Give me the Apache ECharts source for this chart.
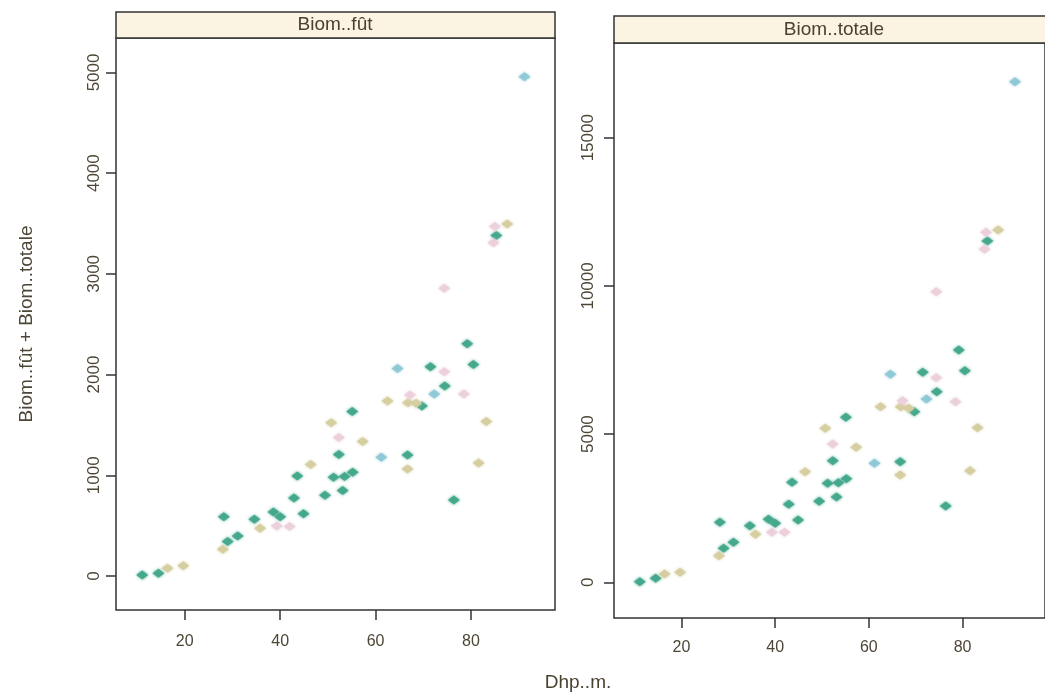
<!DOCTYPE html>
<html>
<head>
<meta charset="utf-8">
<style>html,body{margin:0;padding:0;background:#fff;}#c{width:1045px;height:696px;}</style>
<script src="https://cdn.jsdelivr.net/npm/echarts@6/dist/echarts.min.js"></script>
</head>
<body>
<div id="c"></div>
<script>
// ---- data ----
const panelTitles = ['Biom..fût', 'Biom..totale'];
const dhp = [11.1,14.5,16.4,19.7,28.2,29.0,28.0,31.1,34.6,35.8,38.6,40.0,39.3,42.0,42.9,44.9,43.6,46.4,49.4,51.2,53.5,55.2,53.1,52.3,52.3,50.7,55.1,57.3,61.2,62.5,64.6,66.7,66.7,67.2,66.8,68.5,69.7,71.5,74.4,72.3,74.5,76.4,78.5,79.2,80.5,81.6,83.2,91.2,85.0,87.6,85.3,84.7,74.4];
const biomFut = [10,27,77,102,589,342,266,397,563,474,636,589,497,490,775,619,993,1106,801,980,987,1030,848,1207,1376,1522,1632,1334,1179,1738,2059,1201,1062,1797,1721,1714,1688,2078,2028,1807,1887,755,1807,2306,2101,1122,1533,4958,3469,3495,3382,3310,2856];
const biomTotale = [20,135,280,337,2024,1147,897,1350,1910,1620,2125,1990,1687,1687,2632,2102,3374,3731,2733,3340,3361,3495,2878,4103,4666,5196,5567,4555,4015,5924,7018,4069,3620,6127,5924,5870,5756,7085,6903,6184,6431,2574,6093,7837,7139,3765,5216,16889,11808,11886,11515,11235,9804];
const group = [0,0,1,1,0,0,1,0,0,1,0,0,2,2,0,0,0,1,0,0,0,0,0,0,2,1,0,1,3,1,3,0,1,2,1,1,0,0,2,3,0,0,2,0,0,1,1,3,2,1,0,2,2];
const xTicks = [20,40,60,80];
const yTicksFut = [0,1000,2000,3000,4000,5000];
const yTicksTot = [0,5000,10000,15000];

const groupColors = ['#43a88c','#d5cd9f','#ebd0db','#8ec8d6'];
const drawOrder = [0,1,3,2];

const txt = '#4d4636';
const narrow = '"Liberation Sans Narrow","Liberation Sans",Arial,sans-serif';
const sans = '"Liberation Sans",Arial,sans-serif';
const plain = v => String(v);

function xAxisCfg(idx, margin){
  return {
    gridIndex: idx, type:'value', min:5.6, max:97.6, position:'bottom',
    axisLine:{show:false, onZero:false},
    splitLine:{show:false},
    axisTick:{show:true, inside:false, length:10, lineStyle:{color:'#333',width:1.5}, customValues:xTicks},
    axisLabel:{show:true, margin:margin, color:txt, fontSize:16, fontFamily:sans, customValues:xTicks, formatter:plain}
  };
}
function yAxisCfg(idx, min, max, ticks, margin, name){
  return {
    gridIndex: idx, type:'value', min:min, max:max, position:'left',
    axisLine:{show:false, onZero:false}, splitLine:{show:false},
    axisTick:{show:true, length:10, lineStyle:{color:'#333',width:1.5}, customValues:ticks},
    axisLabel:{show:true, rotate:90, margin:margin, color:txt, fontSize:17, fontFamily:narrow, customValues:ticks, formatter:plain},
    name: name || '', nameLocation:'middle', nameGap:80, nameRotate:90,
    nameTextStyle:{color:txt, fontSize:19, fontFamily:narrow}
  };
}

const series = [];
[biomFut, biomTotale].forEach((vals, p) => {
  drawOrder.forEach(g => {
    const d = [];
    for (let i = 0; i < dhp.length; i++) if (group[i] === g) d.push([dhp[i], vals[i]]);
    series.push({
      type:'scatter', xAxisIndex:p, yAxisIndex:p, data:d,
      symbol:'diamond', symbolSize:[12,9],
      itemStyle:{color:groupColors[g], opacity:0.95, shadowBlur:3, shadowColor:groupColors[g]},
      silent:true, animation:false
    });
  });
});

const chart = echarts.init(document.getElementById('c'), null, {renderer:'canvas'});
chart.setOption({
  backgroundColor:'#ffffff',
  animation:false,
  grid:[
    {left:116, top:38, width:439, height:572, show:true, borderColor:'#333', borderWidth:1.5, backgroundColor:'transparent'},
    {left:614, top:43, width:440, height:575, show:true, borderColor:'#333', borderWidth:1.5, backgroundColor:'transparent'}
  ],
  xAxis:[xAxisCfg(0,24), xAxisCfg(1,22)],
  yAxis:[
    yAxisCfg(0, -338, 5342, yTicksFut, 13, 'Biom..fût + Biom..totale'),
    yAxisCfg(1, -1204, 18195, yTicksTot, 17)
  ],
  series: series,
  graphic:[
    {type:'rect', shape:{x:116, y:12, width:439, height:26}, style:{fill:'#fcf4e3', stroke:'#333', lineWidth:1.5}, z:10},
    {type:'text', x:335, y:25, style:{text:panelTitles[0], fill:'#4a4130', font:'19px '+sans, textAlign:'center', textVerticalAlign:'middle'}, z:11},
    {type:'rect', shape:{x:614, y:16, width:440, height:27}, style:{fill:'#fcf4e3', stroke:'#333', lineWidth:1.5}, z:10},
    {type:'text', x:834, y:30, style:{text:panelTitles[1], fill:'#4a4130', font:'19px '+sans, textAlign:'center', textVerticalAlign:'middle'}, z:11},
    {type:'text', x:578, y:683, style:{text:'Dhp..m.', fill:'#4a4130', font:'19px '+sans, textAlign:'center', textVerticalAlign:'middle'}, z:11}
  ]
});
</script>
</body>
</html>
